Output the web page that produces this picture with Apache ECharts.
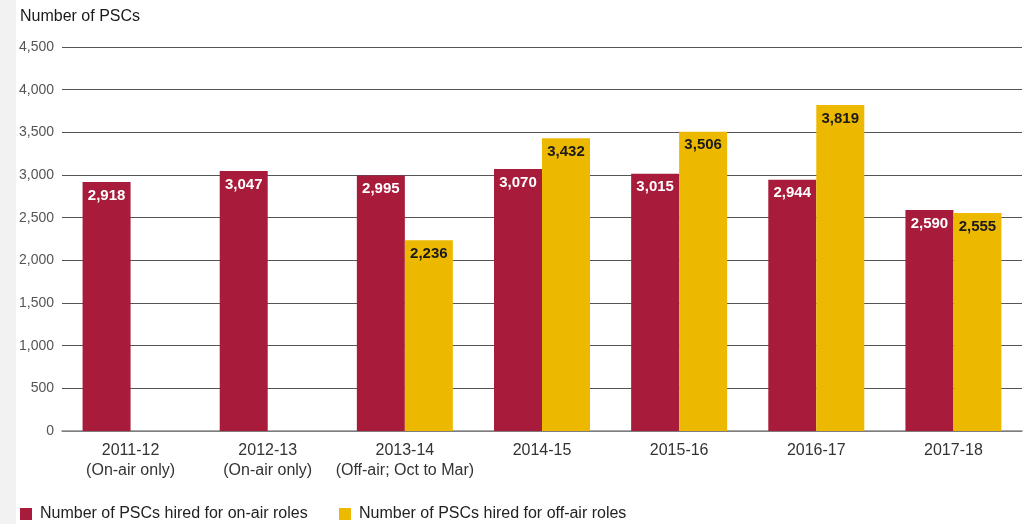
<!DOCTYPE html>
<html>
<head>
<meta charset="utf-8">
<title>Number of PSCs</title>
<script src="https://cdn.jsdelivr.net/npm/echarts@6/dist/echarts.min.js"></script>
<style>
  html, body { margin: 0; padding: 0; background: #ffffff; }
  #chart { width: 1026px; height: 524px; }
</style>
</head>
<body>
<div id="chart"></div>
<script>
// Financial years and their sub-notes
const categories = [
  '2011-12\n(On-air only)',
  '2012-13\n(On-air only)',
  '2013-14\n(Off-air; Oct to Mar)',
  '2014-15',
  '2015-16',
  '2016-17',
  '2017-18'
];

// PSCs hired each year
const onAirHires  = [2918, 3047, 2995, 3070, 3015, 2944, 2590];
const offAirHires = [null, null, 2236, 3432, 3506, 3819, 2555];

const seriesNames = [
  'Number of PSCs hired for on-air roles',
  'Number of PSCs hired for off-air roles'
];

const yTicks = { min: 0, max: 4500, interval: 500 };

const RED = '#a81b3a';
const GOLD = '#ecb900';
const FONT = '"Liberation Sans", Arial, Helvetica, sans-serif';

const fmt = v => Number(v).toLocaleString('en-US');

const chart = echarts.init(document.getElementById('chart'), null, { renderer: 'canvas' });

chart.setOption({
  backgroundColor: '#ffffff',
  animation: false,
  textStyle: { fontFamily: FONT },
  graphic: [{
    type: 'rect',
    left: 0, top: 0,
    shape: { width: 16, height: 524 },
    style: { fill: '#f2f2f2' },
    z: -1
  }],
  title: {
    text: 'Number of PSCs',
    left: 20,
    top: 9,
    padding: 0,
    textStyle: { fontFamily: FONT, fontSize: 16, fontWeight: 'normal', color: '#1a1a1a' }
  },
  legend: [
    {
      data: [seriesNames[0]],
      left: 20, top: 506, padding: 0,
      itemWidth: 12, itemHeight: 12,
      icon: 'rect',
      textStyle: { fontFamily: FONT, fontSize: 16, color: '#222', padding: [0, 0, 0, 3] }
    },
    {
      data: [seriesNames[1]],
      left: 339, top: 506, padding: 0,
      itemWidth: 12, itemHeight: 12,
      icon: 'rect',
      textStyle: { fontFamily: FONT, fontSize: 16, color: '#222', padding: [0, 0, 0, 3] }
    }
  ],
  grid: { left: 62, right: 4, top: 47, bottom: 93, containLabel: false },
  xAxis: {
    type: 'category',
    data: categories,
    axisTick: { show: false },
    axisLine: { show: true, lineStyle: { color: '#8a8a8a', width: 1.5 } },
    axisLabel: {
      fontFamily: FONT, fontSize: 16, color: '#333', lineHeight: 20, margin: 10,
      interval: 0
    }
  },
  yAxis: {
    type: 'value',
    min: yTicks.min, max: yTicks.max, interval: yTicks.interval,
    axisLine: { show: false },
    axisTick: { show: false },
    axisLabel: { fontFamily: FONT, fontSize: 14, color: '#555', margin: 8, formatter: fmt },
    splitLine: { show: true, lineStyle: { color: '#555', width: 1 } }
  },
  series: [
    {
      name: seriesNames[0],
      type: 'bar',
      data: onAirHires,
      barWidth: 48,
      barGap: '0%',
      itemStyle: { color: RED },
      label: {
        show: true, position: 'insideTop', distance: 6,
        fontFamily: FONT, fontSize: 15, fontWeight: 'bold', color: '#ffffff',
        formatter: p => fmt(p.value)
      }
    },
    {
      name: seriesNames[1],
      type: 'bar',
      data: offAirHires,
      barWidth: 48,
      barGap: '0%',
      itemStyle: { color: GOLD },
      label: {
        show: true, position: 'insideTop', distance: 6,
        fontFamily: FONT, fontSize: 15, fontWeight: 'bold', color: '#1a1a1a',
        formatter: p => (p.value == null ? '' : fmt(p.value))
      }
    }
  ]
});
</script>
</body>
</html>
